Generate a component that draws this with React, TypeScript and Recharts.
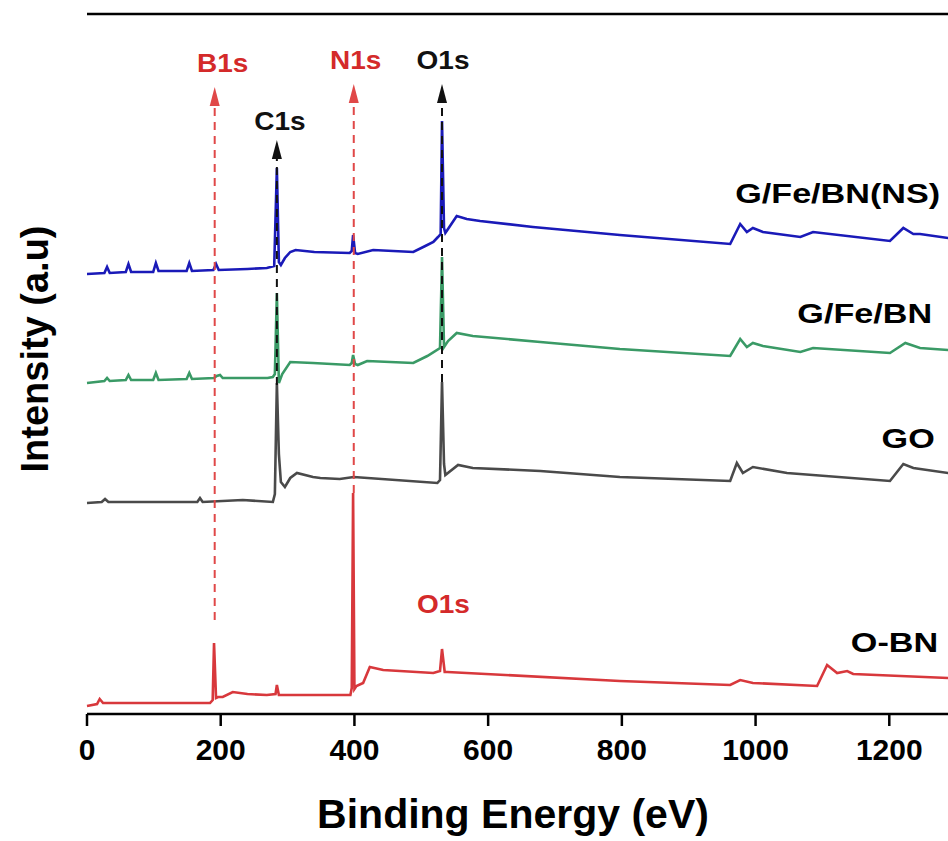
import React from 'react';
import { LineChart, Line, XAxis, YAxis, ReferenceLine, ReferenceDot } from 'recharts';

// binding energy (eV) vs intensity (a.u., curves already offset for stacking)
const energyTicks = [0, 200, 400, 600, 800, 1000, 1200];

const nsSpectrum: [number, number][] = [
  [0, 440], [26, 441], [30, 447], [34, 441], [58, 442], [62, 450], [66, 442], [99, 442], [103, 451], [107, 443],
  [149, 443], [153, 451], [157, 443], [189, 444], [193, 450], [197, 444], [240, 445], [269, 446], [280, 448],
  [284, 546], [287, 452], [290, 449], [296, 456], [304, 462], [312, 464], [340, 462], [393, 461], [396, 463],
  [398, 479], [401, 461], [405, 460], [428, 464], [488, 462], [506, 468], [518, 472], [525, 477], [529, 480],
  [531, 593], [534, 486], [536, 481], [540, 485], [553, 498], [568, 495], [588, 493], [667, 487], [797, 479],
  [962, 470], [977, 490], [987, 482], [996, 486], [1011, 482], [1067, 477], [1086, 482], [1201, 473],
  [1221, 486], [1236, 480], [1246, 480], [1288, 476], [1300, 476],
];

const gfeSpectrum: [number, number][] = [
  [0, 331], [26, 333], [30, 336], [34, 333], [58, 334], [62, 339], [66, 334], [99, 334], [103, 341], [107, 334],
  [149, 335], [153, 341], [157, 335], [190, 336], [194, 338], [199, 339], [203, 336], [270, 336], [278, 337],
  [281, 340], [284, 421], [287, 331], [292, 340], [304, 352], [338, 351], [393, 349], [396, 351], [398, 359],
  [401, 350], [405, 349], [419, 353], [488, 351], [509, 358], [528, 366], [531, 457], [534, 367], [540, 373],
  [553, 381], [577, 378], [678, 372], [797, 365], [962, 358], [977, 375], [987, 367], [996, 371], [1011, 368],
  [1067, 362], [1086, 366], [1201, 361], [1224, 371], [1246, 366], [1288, 364], [1300, 364],
];

const goSpectrum: [number, number][] = [
  [0, 211], [22, 212], [27, 215], [32, 212], [165, 212], [169, 216], [173, 212], [233, 214], [278, 212],
  [281, 220], [284, 331], [287, 260], [290, 232], [296, 227], [304, 236], [314, 241], [338, 237], [349, 236],
  [378, 235], [399, 237], [524, 231], [528, 234], [531, 332], [534, 250], [536, 239], [555, 249], [577, 246],
  [678, 243], [797, 237], [962, 233], [972, 251], [981, 241], [996, 247], [1047, 241], [1201, 233],
  [1221, 250], [1236, 246], [1288, 241], [1300, 241],
];

const obnSpectrum: [number, number][] = [
  [0, 8], [15, 10], [19, 15], [24, 11], [34, 11], [184, 11], [188, 14], [190, 71], [193, 16], [196, 17],
  [203, 17], [218, 22], [240, 20], [269, 19], [282, 20], [284, 29], [287, 19], [349, 19], [394, 19], [396, 26],
  [398, 221], [400, 25], [403, 28], [413, 31], [423, 47], [443, 44], [518, 41], [528, 43], [531, 65], [535, 42],
  [539, 42], [797, 33], [962, 29], [977, 34], [996, 31], [1092, 28], [1107, 49], [1122, 41], [1137, 43],
  [1146, 40], [1288, 36], [1300, 36],
];

const toPoints = (arr: [number, number][]) => arr.map(([e, i]) => ({ e, i }));

const FONT = '"Liberation Sans", Arial, sans-serif';

const arrowShape = (color: string, label: string, textColor: string, dx: number, dy: number) => (p: any) => {
  const { x1, y1, x2, y2 } = p;
  return (
    <g>
      <line x1={x1} y1={y1} x2={x2} y2={y2 + 16} stroke={color} strokeWidth={2} strokeDasharray="8 6" />
      <polygon points={`${x2},${y2} ${x2 - 5},${y2 + 19} ${x2 + 5},${y2 + 19}`} fill={color} />
      <text
        transform={`translate(${x2 + dx},${y2 + dy}) scale(1.12,1)`}
        textAnchor="middle"
        dy="0.36em"
        fontSize={25}
        fontWeight="bold"
        fontFamily={FONT}
        fill={textColor}
      >
        {label}
      </text>
    </g>
  );
};

const curveLabel = (text: string, color = '#000', size = 28, anchor = 'end', sx = 1.22) => (p: any) => (
  <text
    transform={`translate(${p.cx},${p.cy}) scale(${sx},1)`}
    textAnchor={anchor}
    fontSize={size}
    fontWeight="bold"
    fontFamily={FONT}
    fill={color}
  >
    {text}
  </text>
);

export default function App() {
  return (
    <div style={{ position: 'absolute', left: 0, top: 0, width: 948, height: 841, overflow: 'hidden', background: '#fff' }}>
      <LineChart width={1040} height={841} margin={{ top: 14, right: 17, left: 87, bottom: 67 }}>
        <XAxis
          type="number"
          dataKey="e"
          domain={[0, 1400]}
          ticks={energyTicks}
          height={60}
          tickSize={12}
          tickMargin={13}
          axisLine={{ stroke: '#000', strokeWidth: 2.5 }}
          tickLine={{ stroke: '#000', strokeWidth: 2.5 }}
          tick={{ fill: '#000', fontSize: 30, fontWeight: 'bold', fontFamily: FONT }}
        />
        <YAxis
          type="number"
          domain={[0, 700]}
          width={0}
          tick={false}
          tickLine={false}
          axisLine={{ stroke: '#000', strokeWidth: 2.5 }}
        />
        {/* top frame */}
        <ReferenceLine y={700} stroke="#000" strokeWidth={2.5} />

        <Line data={toPoints(obnSpectrum)} dataKey="i" name="O-BN" stroke="#d8383c" strokeWidth={2.6} dot={false} type="linear" isAnimationActive={false} />
        <Line data={toPoints(goSpectrum)} dataKey="i" name="GO" stroke="#4a4a4a" strokeWidth={2.6} dot={false} type="linear" isAnimationActive={false} />
        <Line data={toPoints(gfeSpectrum)} dataKey="i" name="G/Fe/BN" stroke="#3a9a66" strokeWidth={2.6} dot={false} type="linear" isAnimationActive={false} />
        <Line data={toPoints(nsSpectrum)} dataKey="i" name="G/Fe/BN(NS)" stroke="#1a1ab8" strokeWidth={2.6} dot={false} type="linear" isAnimationActive={false} />

        <ReferenceLine segment={[{ x: 191, y: 94 }, { x: 191, y: 627 }]} shape={arrowShape('#e04848', 'B1s', '#d42a2a', 8, -24)} />
        <ReferenceLine segment={[{ x: 284, y: 329 }, { x: 284, y: 574 }]} shape={arrowShape('#111', 'C1s', '#111', 3, -19)} />
        <ReferenceLine segment={[{ x: 399, y: 221 }, { x: 399, y: 630 }]} shape={arrowShape('#e04848', 'N1s', '#d42a2a', 2, -24)} />
        <ReferenceLine segment={[{ x: 531, y: 332 }, { x: 531, y: 630 }]} shape={arrowShape('#111', 'O1s', '#111', 1, -24)} />

        <ReferenceDot x={533} y={101} r={0} shape={curveLabel('O1s', '#d42a2a', 25, 'middle', 1.12)} />
        <ReferenceDot x={1276} y={511} r={0} shape={curveLabel('G/Fe/BN(NS)')} />
        <ReferenceDot x={1264} y={391} r={0} shape={curveLabel('G/Fe/BN')} />
        <ReferenceDot x={1268} y={266} r={0} shape={curveLabel('GO')} />
        <ReferenceDot x={1273} y={62} r={0} shape={curveLabel('O-BN')} />
      </LineChart>
      <svg width={948} height={841} style={{ position: 'absolute', left: 0, top: 0, pointerEvents: 'none' }}>
        <text x={513} y={828} textAnchor="middle" fontSize={41} fontWeight="bold" fontFamily={FONT} fill="#000">
          Binding Energy (eV)
        </text>
        <text transform="translate(48,349) rotate(-90)" textAnchor="middle" fontSize={38} fontWeight="bold" fontFamily={FONT} fill="#000">
          Intensity (a.u)
        </text>
      </svg>
    </div>
  );
}
